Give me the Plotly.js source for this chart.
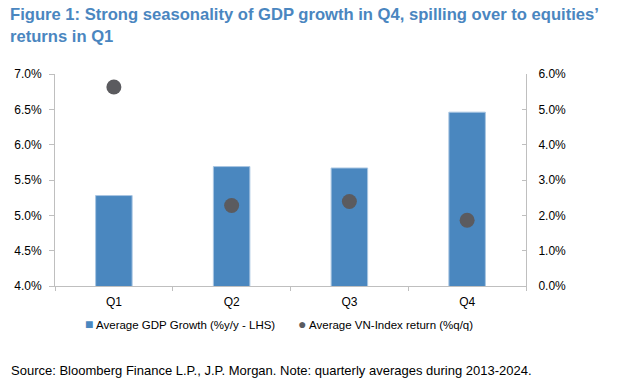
<!DOCTYPE html>
<html><head><meta charset="utf-8">
<script src="https://cdn.plot.ly/plotly-3.0.1.min.js"></script>
<style>html,body{margin:0;padding:0;background:#fff}#chart{width:624px;height:384px}</style>
</head><body><div id="chart"></div>
<script>
const categories = ['Q1', 'Q2', 'Q3', 'Q4'];
const gdpGrowth = [5.28, 5.69, 5.67, 6.46];
const vnIndexReturn = [5.63, 2.28, 2.39, 1.86];
const leftTicks = [4.0, 4.5, 5.0, 5.5, 6.0, 6.5, 7.0];
const rightTicks = [0, 1, 2, 3, 4, 5, 6];
const seriesNames = ['Average GDP Growth (%y/y - LHS)', 'Average VN-Index return (%q/q)'];

const FONT = 'Liberation Sans, Arial, sans-serif';
const BAR = '#4A87BF', DOT = '#5B5B5F';
const L = 55, T = 74, PW = 471, PH = 212;
const px = x => (x - L) / PW;
const py = y => (T + PH - y) / PH;

const traces = [
  {type: 'bar', x: categories, y: gdpGrowth, name: seriesNames[0],
   width: 0.31, marker: {color: BAR, line: {color: '#A9C6E2', width: 1}}, yaxis: 'y'},
  {type: 'scatter', mode: 'markers', x: categories, y: vnIndexReturn, name: seriesNames[1],
   marker: {color: DOT, size: 15}, yaxis: 'y2'}
];
const layout = {
  width: 624, height: 384,
  margin: {l: L, r: 624 - L - PW, t: T, b: 384 - T - PH},
  paper_bgcolor: '#fff', plot_bgcolor: '#fff',
  font: {family: FONT, size: 12, color: '#000'},
  showlegend: false,
  xaxis: {type: 'category', showline: true, linecolor: '#BFBFBF', linewidth: 1, ticks: 'outside',
          tickson: 'boundaries', ticklen: 4, tickcolor: '#BFBFBF', showgrid: false, zeroline: false,
          ticklabelstandoff: 5, tickfont: {size: 12, color: '#000'}},
  yaxis: {range: [4, 7], tickvals: leftTicks, ticktext: leftTicks.map(v => v.toFixed(1) + '%'),
          showline: true, linecolor: '#BFBFBF', linewidth: 1, ticks: 'outside', ticklen: 5, tickcolor: '#BFBFBF',
          ticklabelstandoff: 5, showgrid: false, zeroline: false, tickfont: {size: 12, color: '#000'}},
  yaxis2: {range: [0, 6], overlaying: 'y', side: 'right', tickvals: rightTicks,
           ticktext: rightTicks.map(v => v.toFixed(1) + '%'), showline: true, linecolor: '#BFBFBF', linewidth: 1,
           ticks: 'inside', ticklen: 4, tickcolor: '#BFBFBF', showgrid: false, zeroline: false,
           ticklabelstandoff: 9, tickfont: {size: 12, color: '#000'}},
  annotations: [
    {text: '<b>Figure 1: Strong seasonality of GDP growth in Q4, spilling over to equities’<br>returns in Q1</b>',
     xref: 'paper', yref: 'paper', x: px(8), xanchor: 'left', y: py(3), yanchor: 'top', align: 'left',
     showarrow: false, font: {family: FONT, size: 16.6, color: '#4A86C0'}},
    {text: '<span style="color:' + BAR + ';font-size:14px">■</span> ' + seriesNames[0],
     xref: 'paper', yref: 'paper', x: px(83), xanchor: 'left', y: py(324), yanchor: 'middle',
     showarrow: false, font: {size: 11.5, color: '#000'}},
    {text: '<span style="color:' + DOT + ';font-size:14px">●</span> ' + seriesNames[1],
     xref: 'paper', yref: 'paper', x: px(296), xanchor: 'left', y: py(324), yanchor: 'middle',
     showarrow: false, font: {size: 11.5, color: '#000'}},
    {text: 'Source: Bloomberg Finance L.P., J.P. Morgan. Note: quarterly averages during 2013-2024.',
     xref: 'paper', yref: 'paper', x: px(9), xanchor: 'left', y: py(370), yanchor: 'middle',
     showarrow: false, font: {size: 13, color: '#000'}}
  ]
};
Plotly.newPlot('chart', traces, layout, {displayModeBar: false, staticPlot: true});
</script></body></html>
